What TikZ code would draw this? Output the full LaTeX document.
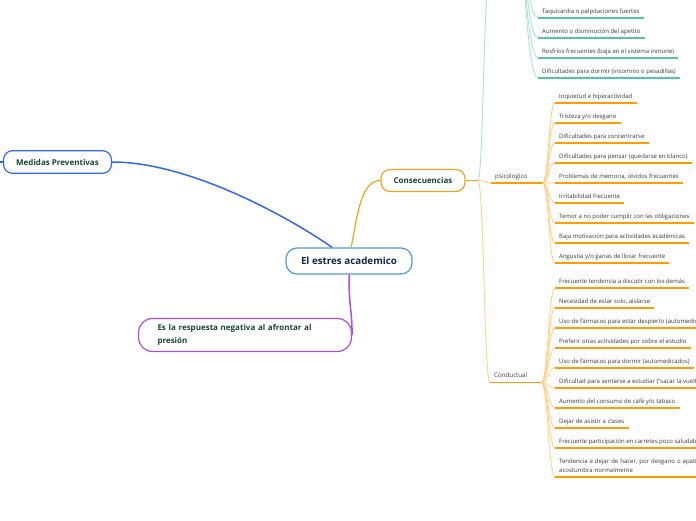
\documentclass[tikz,border=0pt]{standalone}
\usepackage{fontspec}
\setmainfont{Open Sans}
\usetikzlibrary{positioning}
\definecolor{ink}{HTML}{1B4337}\definecolor{navy}{HTML}{14264A}
\definecolor{sky}{HTML}{4C9BDD}\definecolor{blu}{HTML}{3267F0}
\definecolor{org}{HTML}{F7A11A}\definecolor{orgl}{HTML}{FFD08A}\definecolor{orgu}{HTML}{FF9D00}
\definecolor{tea}{HTML}{52C6A4}\definecolor{teal2}{HTML}{A9E3D3}
\definecolor{vio}{HTML}{A84CF2}\definecolor{txtg}{HTML}{383838}
\tikzset{core/.style={draw=sky,line width=1.2pt,fill=white,rounded corners=11pt,minimum width=126pt,minimum height=26pt,font=\fontsize{9.8}{12}\selectfont\bfseries,text=navy},
 topic/.style={line width=1.2pt,fill=white,rounded corners=9pt,minimum height=22pt,font=\fontsize{8}{10}\selectfont\bfseries,text=ink},
 sub/.style={anchor=south west,inner xsep=4pt,inner ysep=3pt,text width=43pt,text height=5pt,text depth=1.5pt,font=\fontsize{6.2}{8}\selectfont,text=txtg},
 leaf/.style={anchor=south west,inner xsep=4pt,inner ysep=3pt,text height=5pt,text depth=1.5pt,font=\fontsize{6}{9}\selectfont,text=txtg,align=left},
 oul/.style={draw=orgu,line width=1.6pt},tul/.style={draw=tea,line width=1.6pt},
 olink/.style={draw=orgl,line width=.9pt},tlink/.style={draw=teal2,line width=.9pt}}
\begin{document}
\begin{tikzpicture}[x=1pt,y=-1pt]
\useasboundingbox (0,0) rectangle (696,520);
\clip (0,0) rectangle (696,520);
% main topics
\node[core] (est) at (349,261) {El estres academico};
\node[topic,draw=org,minimum width=84pt] (con) at (423,180.5) {Consecuencias};
\node[topic,draw=blu,minimum width=108pt,minimum height=22.6pt] (med) at (57.5,162) {Medidas Preventivas};
\node[topic,draw=vio,rounded corners=14pt,minimum width=213pt,minimum height=33pt,text width=175pt,inner xsep=19pt,align=left,font=\fontsize{8}{12.6}\selectfont\bfseries] (def) at (245,335) {Es la respuesta negativa al afrontar al\\presión};
\coordinate (mo) at (-10,162);
\draw[blu,line width=1.5pt] (med.east) .. controls (190,162) and (290,218) .. (est.141);
\draw[blu,line width=1.5pt] (med.west) -- (mo);
\draw[org,line width=1.2pt] (est.81) .. controls +(6,-30) and +(-20,0) .. (con.west);
\draw[vio,line width=1.5pt] (est.south) .. controls +(0,35) and +(0,-25) .. (def.east);
% branches of Consecuencias
\coordinate (cb) at (478,180.5);\coordinate (fis) at (489,-20);\coordinate (fb) at (510,-110);
\node[sub] (psi) at (491,183) {psicologico};
\node[sub] (cnd) at (490,382.5) {Conductual};
\draw[org,line width=1.1pt] (con.east) -- (cb);
\draw[olink] (cb) .. controls +(6,0) and +(-6,0) .. (psi.south west);
\draw[olink] (cb) .. controls +(6,0) and +(-6,0) .. (cnd.south west);
\draw[tlink] (cb) .. controls +(5,0) and +(-5,0) .. (fis);
\draw[oul] (psi.south west) -- (psi.south east);\draw[oul] (cnd.south west) -- (cnd.south east);
% fisico leaves
\foreach \t [count=\i] in {Taquicardia o palpitaciones fuertes,Aumento o disminución del apetito,Resfríos frecuentes (baja en el sistema inmune),Dificultades para dormir (insomnio o pesadillas)}
 \node[leaf] (f\i) at (538,{-2.3+20*\i}) {\t};
\foreach \i in {1,...,4}{\draw[tlink] (fb) .. controls +(14,0) and +(-14,0) .. (f\i.south west);
 \draw[tul] (f\i.south west) -- (f\i.south east);}
% psicologico leaves
\foreach \t [count=\i] in {Inquietud e hiperactividad,Tristeza y/o desgano,Dificultades para concentrarse,Dificultades para pensar (quedarse en blanco),{Problemas de memoria, olvidos frecuentes},Irritabilidad frecuente,Temor a no poder cumplir con las obligaciones,Baja motivación para actividades académicas,Angustia y/o ganas de llorar frecuente}
 \node[leaf] (p\i) at (555,{82.7+20*\i}) {\t};
\foreach \i in {1,...,9}{\draw[olink] (psi.south east) .. controls +(6.5,0) and +(-6.5,0) .. (p\i.south west);
 \draw[oul] (p\i.south west) -- (p\i.south east);}
% conductual leaves
\foreach \t [count=\i] in {Frecuente tendencia a discutir con los demás,{Necesidad de estar solo, aislarse},Uso de fármacos para estar despierto (automedicados),Preferir otras actividades por sobre el estudio,Uso de fármacos para dormir (automedicados),Dificultad para sentarse a estudiar (“sacar la vuelta”),Aumento del consumo de café y/o tabaco,Dejar de asistir a clases,Frecuente participación en carretes poco saludables}
 \node[leaf] (c\i) at (555,{267.7+20*\i}) {\t};
\node[leaf,text width=150pt,text depth=10.5pt] (c10) at (555,476.7) {Tendencia a dejar de hacer, por desgano o apatía\\acostumbra normalmente};
\foreach \i in {1,...,10}{\draw[olink] (cnd.south east) .. controls +(6.5,0) and +(-6.5,0) .. (c\i.south west);
 \draw[oul] (c\i.south west) -- (c\i.south east);}
\end{tikzpicture}
\end{document}
